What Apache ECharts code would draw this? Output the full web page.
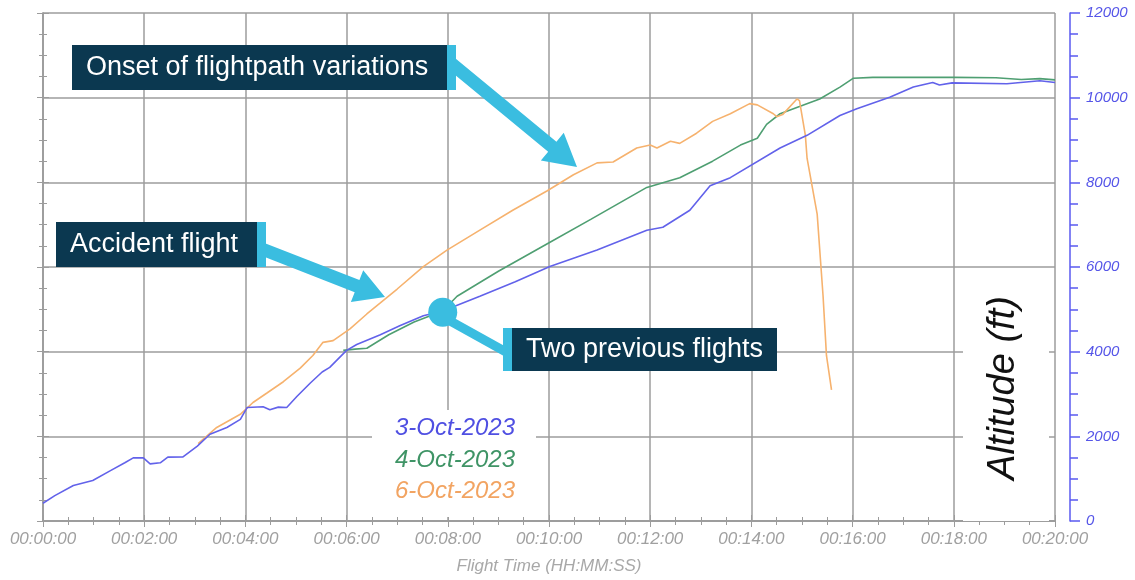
<!DOCTYPE html>
<html>
<head>
<meta charset="utf-8">
<script src="https://cdn.jsdelivr.net/npm/echarts@6/dist/echarts.min.js"></script>
<style>
  html, body { margin: 0; padding: 0; background: #fff; }
  #chart { width: 1135px; height: 580px; }
</style>
</head>
<body>
<div id="chart"></div>
<script>
// flight time in seconds, altitude in ft
const blueTime = [0, 14, 36, 59, 80, 97, 107, 119, 127, 139, 148, 166, 183, 198, 218, 234, 242, 261, 269, 279, 289, 301, 317, 331, 340, 360, 372, 400, 423, 451, 474, 518, 560, 601, 657, 716, 735, 767, 791, 815, 874, 906, 945, 965, 1004, 1032, 1055, 1063, 1078, 1143, 1182, 1200];
const blueAlt = [420, 600, 840, 955, 1190, 1375, 1490, 1490, 1350, 1375, 1510, 1515, 1770, 2050, 2210, 2400, 2680, 2700, 2630, 2690, 2680, 2940, 3260, 3520, 3630, 4030, 4170, 4400, 4610, 4850, 4960, 5310, 5650, 6010, 6400, 6870, 6940, 7340, 7920, 8110, 8810, 9110, 9580, 9740, 10010, 10250, 10360, 10300, 10350, 10330, 10400, 10360];

const greenTime = [356, 370, 384, 410, 440, 474, 491, 540, 598, 650, 716, 755, 794, 827, 847, 858, 874, 897, 921, 945, 961, 984, 1030, 1080, 1130, 1160, 1182, 1200];
const greenAlt = [4030, 4060, 4080, 4400, 4700, 4960, 5310, 5900, 6550, 7130, 7880, 8110, 8500, 8880, 9040, 9370, 9620, 9790, 9970, 10250, 10460, 10480, 10480, 10480, 10470, 10430, 10450, 10420];

const orangeTime = [184, 206, 234, 249, 266, 285, 305, 320, 332, 344, 364, 384, 400, 420, 451, 479, 518, 557, 598, 629, 657, 676, 704, 720, 728, 744, 755, 775, 794, 815, 838, 847, 866, 870, 877, 894, 897, 904, 906, 918, 925, 929, 935];
const orangeAlt = [1830, 2210, 2520, 2800, 3030, 3290, 3610, 3910, 4220, 4260, 4540, 4890, 5150, 5480, 6010, 6400, 6870, 7340, 7800, 8180, 8460, 8480, 8810, 8880, 8810, 8970, 8920, 9160, 9440, 9620, 9860, 9830, 9620, 9550, 9600, 9970, 9930, 9110, 8570, 7250, 5310, 3910, 3100];

const flightLabels = ["3-Oct-2023", "4-Oct-2023", "6-Oct-2023"];
const mergePoint = [474, 4930];

const blue = "#6262ea";
const green = "#4f9f72";
const orange = "#f6b26e";
const cyan = "#3abde0";
const navy = "#0b3850";
const gridGrey = "#9c9c9c";

function pairs(t, v) {
  return t.map((x, i) => [x, v[i]]);
}

function hms(sec) {
  const m = Math.floor(sec / 60);
  const s = sec % 60;
  return "00:" + String(m).padStart(2, "0") + ":" + String(s).padStart(2, "0");
}

// thick arrow as a polygon, from (x1,y1) to tip (x2,y2)
function arrow(x1, y1, x2, y2, w, hw, hl) {
  const dx = x2 - x1, dy = y2 - y1;
  const len = Math.sqrt(dx * dx + dy * dy);
  const ux = dx / len, uy = dy / len;
  const nx = -uy, ny = ux;
  const bx = x2 - ux * hl, by = y2 - uy * hl;
  return [
    [x1 + nx * w / 2, y1 + ny * w / 2],
    [bx + nx * w / 2, by + ny * w / 2],
    [bx + nx * hw / 2, by + ny * hw / 2],
    [x2, y2],
    [bx - nx * hw / 2, by - ny * hw / 2],
    [bx - nx * w / 2, by - ny * w / 2],
    [x1 - nx * w / 2, y1 - ny * w / 2]
  ];
}

function box(x, y, w, h, text, accentLeft) {
  const accent = 9;
  return [
    { type: "rect", shape: { x: x, y: y, width: w, height: h }, style: { fill: navy }, z: 10 },
    { type: "rect", shape: { x: accentLeft ? x - accent : x + w, y: y, width: accent, height: h }, style: { fill: cyan }, z: 10 },
    {
      type: "text", x: x + 14, y: y + h / 2, z: 11,
      style: { text: text, fill: "#fff", font: "27px 'Liberation Sans', Arial, sans-serif", verticalAlign: "middle" }
    }
  ];
}

const chart = echarts.init(document.getElementById("chart"));

const frameLine = { show: true, lineStyle: { color: gridGrey, width: 1.5 } };
const innerTick = { show: true, inside: true, length: 6, lineStyle: { color: gridGrey } };
const innerMinor = { show: true, splitNumber: 4, length: 4, lineStyle: { color: gridGrey } };
const legendFont = "italic 24px 'Liberation Sans', Arial, sans-serif";

const option = {
  animation: false,
  grid: { left: 43, right: 80, top: 13, bottom: 52 },
  xAxis: [
    {
      type: "value", min: 0, max: 1200, interval: 120, position: "bottom",
      axisLine: frameLine, axisTick: innerTick, minorTick: innerMinor,
      splitLine: { show: true, lineStyle: { color: gridGrey, width: 1.5 } },
      axisLabel: {
        formatter: hms, color: "#a0a0a0", fontStyle: "italic", fontSize: 17,
        fontFamily: "'Liberation Sans', Arial, sans-serif", margin: 10
      },
      name: "Flight Time (HH:MM:SS)", nameLocation: "middle", nameGap: 37,
      nameTextStyle: { color: "#a8a8a8", fontStyle: "italic", fontSize: 17, fontFamily: "'Liberation Sans', Arial, sans-serif" }
    },
    {
      type: "value", min: 0, max: 1200, interval: 120, position: "top",
      axisLine: frameLine, axisTick: innerTick, minorTick: innerMinor,
      splitLine: { show: false }, axisLabel: { show: false }
    }
  ],
  yAxis: [
    {
      type: "value", min: 0, max: 12000, interval: 2000, position: "left",
      axisLine: frameLine, axisTick: innerTick, minorTick: innerMinor,
      splitLine: { show: true, lineStyle: { color: gridGrey, width: 1.5 } },
      axisLabel: { show: false }
    },
    {
      type: "value", min: 0, max: 12000, interval: 2000, position: "right",
      axisLine: frameLine, axisTick: innerTick, minorTick: innerMinor,
      splitLine: { show: false }, axisLabel: { show: false }
    },
    {
      type: "value", min: 0, max: 12000, interval: 2000, position: "right", offset: 15,
      axisLine: { show: true, lineStyle: { color: "#5a5af0", width: 1.5 } },
      axisTick: { show: true, length: 10, lineStyle: { color: "#5a5af0", width: 1.5 } },
      minorTick: { show: true, splitNumber: 4, length: 8, lineStyle: { color: "#5a5af0", width: 1.5 } },
      splitLine: { show: false },
      axisLabel: {
        formatter: (v) => String(v),
        color: "#5656e8", fontStyle: "italic", fontSize: 15, margin: 16,
        fontFamily: "'Liberation Sans', Arial, sans-serif"
      }
    }
  ],
  series: [
    {
      name: flightLabels[1], type: "line", data: pairs(greenTime, greenAlt),
      showSymbol: false, lineStyle: { color: green, width: 1.6 }, z: 3
    },
    {
      name: flightLabels[2], type: "line", data: pairs(orangeTime, orangeAlt),
      showSymbol: false, lineStyle: { color: orange, width: 1.6 }, z: 3
    },
    {
      name: flightLabels[0], type: "line", data: pairs(blueTime, blueAlt),
      showSymbol: false, lineStyle: { color: blue, width: 1.6 }, z: 4
    },
    {
      type: "scatter", data: [mergePoint], symbolSize: 29,
      itemStyle: { color: cyan, opacity: 1 }, z: 12, silent: true
    }
  ],
  graphic: [
    // white patches behind the legend text and axis title
    { type: "rect", shape: { x: 372, y: 410, width: 164, height: 107 }, style: { fill: "#fff" }, z: 1 },
    { type: "rect", shape: { x: 963, y: 286, width: 86, height: 235 }, style: { fill: "#fff" }, z: 1 },
    {
      type: "text", x: 395, y: 428, z: 11,
      style: { text: flightLabels[0], fill: "#4f4fe2", font: legendFont, verticalAlign: "middle" }
    },
    {
      type: "text", x: 395, y: 460, z: 11,
      style: { text: flightLabels[1], fill: "#3f9466", font: legendFont, verticalAlign: "middle" }
    },
    {
      type: "text", x: 395, y: 491, z: 11,
      style: { text: flightLabels[2], fill: "#f2a462", font: legendFont, verticalAlign: "middle" }
    },
    {
      type: "text", x: 1003, y: 388, rotation: Math.PI / 2, z: 11,
      style: { text: "Altitude (ft)", fill: "#111", font: "italic 38px 'Liberation Sans', Arial, sans-serif", align: "center", verticalAlign: "middle" }
    },
    { type: "polygon", shape: { points: arrow(452, 64, 577, 167, 13, 36, 32) }, style: { fill: cyan }, z: 9 },
    { type: "polygon", shape: { points: arrow(262, 249, 385, 297, 13, 34, 30) }, style: { fill: cyan }, z: 9 },
    { type: "line", shape: { x1: 443, y1: 317, x2: 506, y2: 352 }, style: { stroke: cyan, lineWidth: 9 }, z: 9 },
    ...box(72, 45, 375, 45, "Onset of flightpath variations", false),
    ...box(56, 222, 201, 45, "Accident flight", false),
    ...box(512, 328, 265, 43, "Two previous flights", true)
  ]
};

chart.setOption(option);
</script>
</body>
</html>
